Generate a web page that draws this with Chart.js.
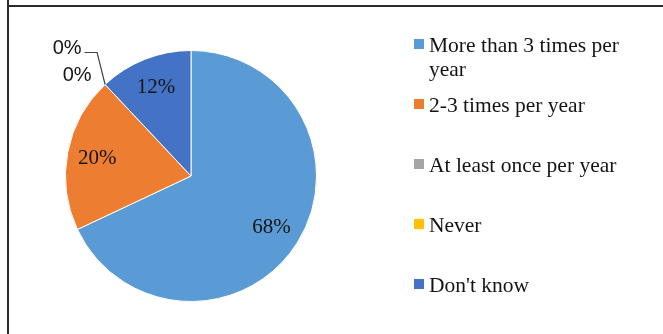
<!DOCTYPE html>
<html>
<head>
<meta charset="utf-8">
<script src="https://cdn.jsdelivr.net/npm/chart.js@4/dist/chart.umd.min.js"></script>
<style>
  html, body { margin: 0; padding: 0; background: #fff; }
  #wrap { position: relative; width: 663px; height: 334px; overflow: hidden; }
  #pieChart { position: absolute; left: 0; top: 0; }
  .rule-h { position: absolute; left: 7px; top: 5px; width: 660px; height: 2px; background: #2b2b2b; }
  .rule-v { position: absolute; left: 7px; top: 0; width: 2px; height: 334px; background: #2b2b2b; }
</style>
</head>
<body>
<div id="wrap">
  <canvas id="pieChart" width="663" height="334"></canvas>
  <div class="rule-h"></div>
  <div class="rule-v"></div>
</div>
<script>
// ---- Data ----

const categories = [
  'More than 3 times per year',
  '2-3 times per year',
  'At least once per year',
  'Never',
  "Don't know"
];
const shares = [68, 20, 0, 0, 12];
const sliceColors = ['#5b9bd5', '#ed7d31', '#a5a5a5', '#ffc000', '#4472c4'];

// ---- Styling ----

const serif = '"Liberation Serif", "Times New Roman", serif';
const sans = '"Liberation Sans", Arial, sans-serif';
const textColor = '#141414';

// zero-value labels sit outside the pie, offset from the slice edge
const zeroLabelOffsets = [
  { dx: -38, dy: -36, leader: true },
  { dx: -28, dy: -9, leader: false }
];

// ---- Plugins ----

const sliceLabels = {
  id: 'sliceLabels',
  afterDatasetsDraw(chart) {
    const ctx = chart.ctx;
    const meta = chart.getDatasetMeta(0);
    const values = chart.data.datasets[0].data;
    let zeroIdx = 0;
    ctx.save();
    ctx.textAlign = 'center';
    ctx.textBaseline = 'middle';
    ctx.fillStyle = textColor;
    meta.data.forEach((arc, i) => {
      const p = arc.getProps(['x', 'y', 'startAngle', 'endAngle', 'outerRadius'], true);
      const mid = (p.startAngle + p.endAngle) / 2;
      const text = values[i] + '%';
      if (values[i] > 0) {
        const r = p.outerRadius * 0.76;
        ctx.font = '21px ' + serif;
        ctx.fillText(text, p.x + Math.cos(mid) * r, p.y + Math.sin(mid) * r);
        return;
      }
      const off = zeroLabelOffsets[zeroIdx++] || { dx: -30, dy: -20, leader: false };
      const ex = p.x + Math.cos(mid) * p.outerRadius;
      const ey = p.y + Math.sin(mid) * p.outerRadius;
      const lx = ex + off.dx;
      const ly = ey + off.dy;
      ctx.font = '20px ' + sans;
      ctx.fillText(text, lx, ly);
      if (off.leader) {
        const w = ctx.measureText(text).width;
        ctx.strokeStyle = '#444';
        ctx.lineWidth = 1.2;
        ctx.beginPath();
        ctx.moveTo(lx + w / 2 + 3, ly + 4);
        ctx.lineTo(ex - 8, ly + 4);
        ctx.lineTo(ex, ey);
        ctx.stroke();
      }
    });
    ctx.restore();
  }
};

function wrapText(ctx, text, maxWidth) {
  const words = text.split(' ');
  const lines = [];
  let line = '';
  words.forEach(word => {
    const test = line ? line + ' ' + word : word;
    if (line && ctx.measureText(test).width > maxWidth) {
      lines.push(line);
      line = word;
    } else {
      line = test;
    }
  });
  if (line) lines.push(line);
  return lines;
}

const sideLegend = {
  id: 'sideLegend',
  afterDraw(chart, args, opts) {
    const ctx = chart.ctx;
    const labels = chart.data.labels;
    const colors = chart.data.datasets[0].backgroundColor;
    ctx.save();
    ctx.font = opts.fontSize + 'px ' + serif;
    ctx.textBaseline = 'alphabetic';
    ctx.textAlign = 'left';
    labels.forEach((label, i) => {
      const top = opts.top + i * opts.step;
      ctx.fillStyle = colors[i];
      ctx.fillRect(opts.left, top, opts.box, opts.box);
      ctx.fillStyle = textColor;
      const lines = wrapText(ctx, label, opts.maxWidth);
      lines.forEach((ln, j) => {
        ctx.fillText(ln, opts.left + opts.box + 5, top + opts.baseline + j * opts.lineHeight);
      });
    });
    ctx.restore();
  }
};

// ---- Chart ----

new Chart(document.getElementById('pieChart'), {
  type: 'pie',
  data: {
    labels: categories,
    datasets: [{
      data: shares,
      backgroundColor: sliceColors,
      borderColor: '#ffffff',
      borderWidth: 1
    }]
  },
  options: {
    responsive: false,
    animation: false,
    layout: { padding: { left: 65, top: 50, right: 346, bottom: 32 } },
    plugins: {
      legend: { display: false },
      tooltip: { enabled: false },
      sideLegend: {
        left: 414, top: 39, step: 60, box: 10,
        fontSize: 21.5, baseline: 13, lineHeight: 24, maxWidth: 200
      }
    }
  },
  plugins: [sliceLabels, sideLegend]
});
</script>
</body>
</html>
